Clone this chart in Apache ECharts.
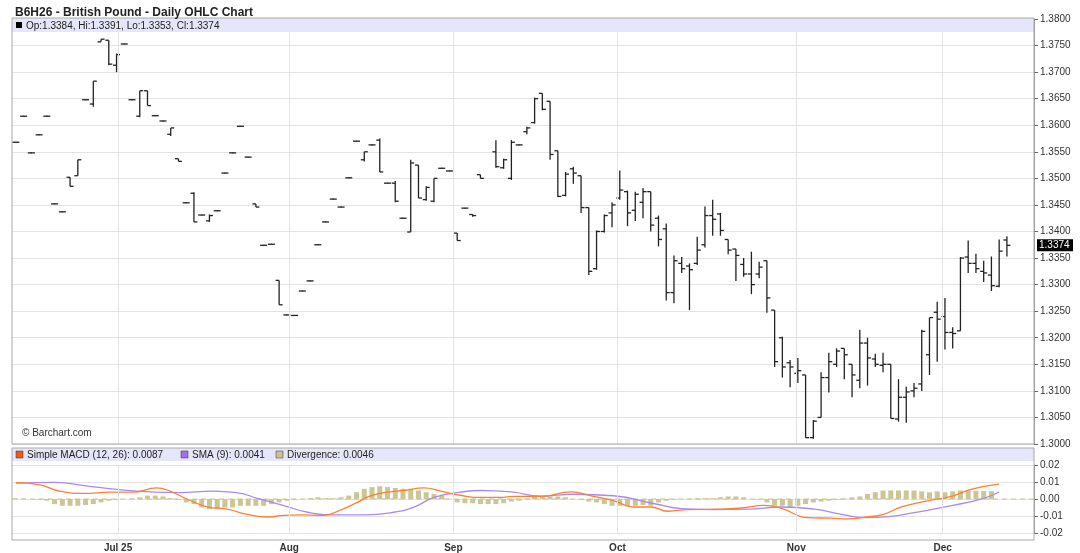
<!DOCTYPE html>
<html>
<head>
<meta charset="utf-8">
<script src="https://cdn.jsdelivr.net/npm/echarts@6/dist/echarts.min.js"></script>
<style>html,body{margin:0;padding:0;background:#fff}#main{width:1080px;height:553px}</style>
</head>
<body>
<div id="main"></div>
<script>
// daily bars, oldest first (null = no trade read)
var opens  = [1.3568,1.3617,1.3548,1.3582,1.3617,1.3452,1.3437,1.3502,1.3505,1.3648,1.3640,1.3757,1.3760,1.3713,1.3753,1.3648,1.3617,1.3665,1.3618,1.3608,1.3583,1.3537,1.3454,1.3472,1.3431,1.3420,1.3439,1.3510,1.3548,1.3598,1.3540,1.3452,1.3374,1.3376,1.3308,1.3243,1.3242,1.3288,1.3307,1.3375,1.3418,1.3461,1.3446,1.3501,1.3570,1.3535,1.3563,1.3572,1.3491,1.3491,1.3425,1.3399,1.3525,1.3460,1.3457,1.3519,1.3514,1.3397,1.3444,1.3432,1.3507,null,1.3550,1.3520,1.3500,1.3563,1.3588,1.3605,1.3660,1.3645,1.3552,1.3468,1.3518,1.3505,1.3445,1.3330,1.3400,1.3435,1.3463,1.3475,1.3440,1.3455,1.3475,1.3425,1.3405,1.3285,1.3340,1.3335,1.3340,1.3375,1.3430,1.3433,1.3385,1.3367,1.3338,1.3320,1.3320,1.3345,1.3252,1.3200,1.3153,1.3133,1.3130,1.3012,1.3050,1.3125,1.3150,1.3180,1.3150,1.3120,1.3190,1.3160,1.3148,1.3150,1.3047,1.3088,1.3100,1.3113,1.3168,1.3248,1.3240,1.3210,1.3213,1.3352,1.3340,1.3325,1.3318,1.3297,1.3384];
var highs  = [1.3568,1.3617,1.3548,1.3582,1.3617,1.3452,1.3437,1.3502,1.3535,1.3648,1.3683,1.3762,1.3760,1.3735,1.3753,1.3648,1.3665,1.3665,1.3618,1.3608,1.3595,1.3537,1.3454,1.3474,1.3431,1.3432,1.3439,1.3510,1.3548,1.3598,1.3540,1.3452,1.3374,1.3376,1.3308,1.3243,1.3242,1.3288,1.3307,1.3375,1.3418,1.3461,1.3446,1.3501,1.3570,1.3550,1.3563,1.3575,1.3491,1.3495,1.3425,1.3535,1.3525,1.3485,1.3500,1.3519,1.3514,1.3397,1.3444,1.3432,1.3507,null,1.3572,1.3537,1.3572,1.3563,1.3597,1.3652,1.3660,1.3645,1.3552,1.3512,1.3522,1.3505,1.3445,1.3402,1.3432,1.3455,1.3515,1.3477,1.3475,1.3482,1.3475,1.3430,1.3415,1.3355,1.3352,1.3340,1.3390,1.3447,1.3460,1.3435,1.3385,1.3367,1.3350,1.3362,1.3343,1.3345,1.3252,1.3202,1.3158,1.3162,1.3130,1.3045,1.3135,1.3172,1.3180,1.3180,1.3150,1.3215,1.3200,1.3170,1.3172,1.3150,1.3122,1.3108,1.3115,1.3215,1.3238,1.3268,1.3275,1.3220,1.3352,1.3383,1.3358,1.3345,1.3353,1.3385,1.3391];
var lows   = [1.3568,1.3617,1.3548,1.3582,1.3617,1.3452,1.3437,1.3485,1.3505,1.3648,1.3635,1.3757,1.3713,1.3700,1.3753,1.3648,1.3615,1.3637,1.3618,1.3608,1.3580,1.3532,1.3454,1.3418,1.3431,1.3418,1.3439,1.3510,1.3548,1.3598,1.3540,1.3446,1.3374,1.3376,1.3262,1.3243,1.3242,1.3288,1.3307,1.3375,1.3418,1.3461,1.3446,1.3501,1.3570,1.3532,1.3563,1.3512,1.3491,1.3455,1.3425,1.3399,1.3463,1.3458,1.3455,1.3519,1.3514,1.3383,1.3444,1.3428,1.3500,null,1.3520,1.3518,1.3497,1.3563,1.3583,1.3603,1.3628,1.3535,1.3465,1.3466,1.3490,1.3435,1.3318,1.3328,1.3398,1.3408,1.3460,1.3410,1.3420,1.3425,1.3400,1.3372,1.3270,1.3265,1.3322,1.3252,1.3337,1.3370,1.3392,1.3392,1.3357,1.3307,1.3315,1.3282,1.3312,1.3247,1.3145,1.3125,1.3107,1.3115,1.3012,1.3010,1.3050,1.3097,1.3145,1.3122,1.3088,1.3105,1.3110,1.3145,1.3135,1.3048,1.3042,1.3040,1.3088,1.3100,1.3130,1.3155,1.3178,1.3180,1.3213,1.3322,1.3322,1.3305,1.3288,1.3295,1.3353];
var closes = [1.3568,1.3617,1.3548,1.3582,1.3617,1.3452,1.3437,1.3485,1.3535,1.3648,1.3683,1.3762,1.3715,1.3733,1.3753,1.3648,1.3665,1.3637,1.3618,1.3608,1.3595,1.3532,1.3454,1.3418,1.3431,1.3430,1.3439,1.3510,1.3548,1.3598,1.3540,1.3446,1.3374,1.3376,1.3262,1.3243,1.3242,1.3288,1.3307,1.3375,1.3418,1.3461,1.3446,1.3501,1.3570,1.3550,1.3563,1.3512,1.3491,1.3457,1.3425,1.3529,1.3463,1.3483,1.3500,1.3519,1.3514,1.3383,1.3444,1.3430,1.3500,null,1.3522,1.3535,1.3568,1.3563,1.3595,1.3650,1.3630,1.3545,1.3466,1.3508,1.3510,1.3445,1.3325,1.3400,1.3430,1.3450,1.3478,1.3435,1.3470,1.3475,1.3412,1.3385,1.3285,1.3345,1.3330,1.3328,1.3365,1.3430,1.3423,1.3402,1.3365,1.3355,1.3320,1.3300,1.3333,1.3275,1.3155,1.3145,1.3145,1.3138,1.3012,1.3043,1.3125,1.3155,1.3175,1.3168,1.3130,1.3190,1.3162,1.3150,1.3150,1.3048,1.3088,1.3098,1.3105,1.3212,1.3238,1.3235,1.3210,1.3208,1.3350,1.3340,1.3330,1.3322,1.3298,1.3363,1.3374];

// MACD panel
var divergence = [0.0003,0.0002,0,-0.0005,-0.001,-0.003,-0.004,-0.004,-0.004,-0.0035,-0.003,-0.002,-0.001,-0.0005,0,0.0002,0.001,0.002,0.002,0.0015,0.0005,-0.0005,-0.002,-0.003,-0.005,-0.006,-0.006,-0.005,-0.005,-0.004,-0.004,-0.004,-0.004,-0.003,-0.002,-0.001,-0.0005,0,0.0005,0.001,0.0005,0.0005,0.001,0.002,0.004,0.006,0.007,0.0075,0.007,0.0065,0.006,0.006,0.005,0.004,0.003,0.002,0.0002,-0.002,-0.0025,-0.0025,-0.003,-0.003,-0.003,-0.0025,-0.0015,-0.001,-0.0005,
  0.0015,0.0015,0.0015,0.0015,0.001,0,-0.0005,-0.0015,-0.002,-0.003,-0.004,-0.004,-0.004,-0.004,-0.0035,-0.004,-0.002,-0.001,-0.0005,0,0.0002,0.0005,0.0005,0.0005,0.001,0.0015,0.0015,0.001,0,-0.0005,-0.002,-0.004,-0.004,-0.005,-0.004,-0.003,-0.002,-0.0015,-0.001,-0.0005,0.0003,0.001,0.0015,0.003,0.004,0.005,0.005,0.005,0.005,0.005,0.0045,0.004,0.0045,0.004,0.0045,0.005,0.005,0.0048,0.0047,0.0046];
var macdIdx = [0,3.1,5.7,8.7,12.2,15.1,18.2,19.9,22.1,24.7,27.3,29.9,32.5,34.6,36.7,39.7,41.9,44.1,45.8,48,50.1,52.7,54.9,57.4,60,62.6,64.3,67.8,71.7,74.3,77.2,79.8,82,84.2,86.8,90.2,93.7,96.6,98.8,102.3,105.3,107.5,110.1,111.8,114.4,117.9,120.8,123.4,127];
var macdVal = [0.0096,0.0083,0.0046,0.0033,0.004,0.004,0.0065,0.0046,0,-0.0046,-0.006,-0.009,-0.0106,-0.0096,-0.0093,-0.0096,-0.0065,-0.002,0.0018,0.004,0.005,0.0065,0.0046,0.0022,0.0009,0.0009,0.0015,0.0015,0.0042,0.0019,-0.001,-0.0047,-0.0047,-0.0072,-0.0062,-0.006,-0.0053,-0.0038,-0.0053,-0.011,-0.0113,-0.0117,-0.0104,-0.0094,-0.0047,-0.0009,0.0015,0.0057,0.0087];
var smaIdx = [0,5,9.5,16.7,21,25.5,28.5,31.5,34.5,37.7,41,45,48.8,51.5,54,57.4,60,62.6,64.3,67.8,72.1,77.2,82.5,86,90.2,94.6,98.8,103.2,107,109.8,112.7,116.2,121,125,127];
var smaVal = [0.0093,0.0098,0.0074,0.0043,0.0037,0.0046,0.0037,0,-0.0037,-0.0078,-0.0093,-0.0093,-0.0078,-0.0046,0.0009,0.004,0.005,0.0046,0.004,0.0017,0.0028,0.0019,-0.0028,-0.0057,-0.0062,-0.006,-0.0047,-0.006,-0.0094,-0.011,-0.0104,-0.0079,-0.0038,0.0004,0.0041];

// month start positions (bar index units) and their labels
var monthPos = [13.2, 35.3, 56.5, 77.7, 100.8, 119.7];
var monthNames = ['Jul 25', 'Aug', 'Sep', 'Oct', 'Nov', 'Dec'];

var n = opens.length;
var xMax = n + 2.5; // empty room right of the last bar
var ohlc = [];
for (var i = 0; i < n; i++) {
  if (opens[i] !== null) ohlc.push([i, opens[i], highs[i], lows[i], closes[i]]);
}
var divData = divergence.map(function (v, i) { return [i, v]; });
var macdLine = macdIdx.map(function (x, i) { return [x, macdVal[i]]; });
var smaLine = smaIdx.map(function (x, i) { return [x, smaVal[i]]; });
var monthLines = monthPos.map(function (x) { return { xAxis: x }; });

var myChart = echarts.init(document.getElementById('main'));
var L = 12, R = 46;
var gridLine = { show: true, lineStyle: { color: '#e3e3e3' } };
var vLines = { silent: true, symbol: 'none', label: { show: false },
  lineStyle: { color: '#e3e3e3', type: 'solid', width: 1 }, data: monthLines };
var option = {
  animation: false,
  textStyle: { fontFamily: 'Liberation Sans, Arial, sans-serif' },
  title: {
    text: 'B6H26 - British Pound - Daily OHLC Chart',
    left: 10, top: 2,
    textStyle: { fontSize: 12, fontWeight: 'bold', color: '#222' }
  },
  grid: [
    { left: L, right: R, top: 19, height: 425 },
    { left: L, right: R, top: 465, height: 71 }
  ],
  xAxis: [
    { type: 'value', gridIndex: 0, min: -0.5, max: xMax, show: false },
    { type: 'value', gridIndex: 1, min: -0.5, max: xMax,
      axisLine: { show: false, onZero: false }, axisTick: { show: false }, splitLine: { show: false },
      axisLabel: {
        customValues: monthPos, margin: 10, fontSize: 10, fontWeight: 'bold', color: '#333',
        formatter: function (v) {
          var k = -1;
          monthPos.forEach(function (p, j) { if (Math.abs(p - v) < 0.01) k = j; });
          return k >= 0 ? monthNames[k] : '';
        }
      } }
  ],
  yAxis: [
    { type: 'value', gridIndex: 0, position: 'right', min: 1.30, max: 1.38, interval: 0.005,
      axisLine: { show: true, onZero: false, lineStyle: { color: '#999' } },
      axisTick: { show: true, length: 4, lineStyle: { color: '#666' } },
      axisLabel: { fontSize: 10, color: '#333', margin: 6, formatter: function (v) { return v.toFixed(4); } },
      splitLine: gridLine },
    { type: 'value', gridIndex: 1, position: 'right', min: -0.02, max: 0.02, interval: 0.01,
      axisLine: { show: true, onZero: false, lineStyle: { color: '#999' } },
      axisTick: { show: true, length: 4, lineStyle: { color: '#666' } },
      axisLabel: { fontSize: 10, color: '#333', margin: 6, formatter: function (v) { return v.toFixed(2); } },
      splitLine: gridLine }
  ],
  series: [
    {
      type: 'custom', xAxisIndex: 0, yAxisIndex: 0, data: ohlc,
      encode: { x: 0, y: [1, 2, 3, 4] },
      renderItem: function (params, api) {
        var x = api.coord([api.value(0), 0])[0];
        var o = api.coord([api.value(0), api.value(1)])[1];
        var h = api.coord([api.value(0), api.value(2)])[1];
        var l = api.coord([api.value(0), api.value(3)])[1];
        var c = api.coord([api.value(0), api.value(4)])[1];
        var st = { stroke: '#222', lineWidth: 1.3 };
        if (Math.abs(l - h) < 1) { h -= 0.5; l += 0.5; }
        return { type: 'group', children: [
          { type: 'line', shape: { x1: x, y1: h, x2: x, y2: l }, style: st },
          { type: 'line', shape: { x1: x - 3.5, y1: o, x2: x, y2: o }, style: st },
          { type: 'line', shape: { x1: x, y1: c, x2: x + 3.5, y2: c }, style: st }
        ] };
      },
      markLine: vLines
    },
    {
      type: 'bar', xAxisIndex: 1, yAxisIndex: 1, data: divData, barWidth: 5,
      itemStyle: { color: '#cbc693' },
      markLine: vLines
    },
    { type: 'line', xAxisIndex: 1, yAxisIndex: 1, data: smaLine, smooth: true, showSymbol: false,
      lineStyle: { color: '#a98af0', width: 1.3 } },
    { type: 'line', xAxisIndex: 1, yAxisIndex: 1, data: macdLine, smooth: true, showSymbol: false,
      lineStyle: { color: '#ff8033', width: 1.3 } }
  ]
};
myChart.setOption(option);

var lastY = myChart.convertToPixel({ yAxisIndex: 0 }, closes[n - 1]);
var zeroY = myChart.convertToPixel({ yAxisIndex: 1 }, 0);
var W = 1080 - L - R;
myChart.setOption({
  graphic: [
    { type: 'rect', shape: { x: L, y: 18, width: W, height: 14 }, style: { fill: '#e6e6fa' }, z: 5 },
    { type: 'rect', shape: { x: L, y: 18, width: W, height: 426 }, style: { fill: 'none', stroke: '#aaa', lineWidth: 1 }, z: 6 },
    { type: 'rect', shape: { x: 16, y: 22, width: 6, height: 6 }, style: { fill: '#000' }, z: 7 },
    { type: 'text', x: 26, y: 21, style: { text: 'Op:1.3384, Hi:1.3391, Lo:1.3353, Cl:1.3374', fontSize: 10, fill: '#222' }, z: 7 },
    { type: 'text', x: 22, y: 428, style: { text: '© Barchart.com', fontSize: 10, fill: '#333' }, z: 7 },
    { type: 'rect', shape: { x: L, y: 448, width: W, height: 13 }, style: { fill: '#e6e6fa' }, z: 5 },
    { type: 'rect', shape: { x: L, y: 448, width: W, height: 92 }, style: { fill: 'none', stroke: '#aaa', lineWidth: 1 }, z: 6 },
    { type: 'line', shape: { x1: L, y1: zeroY, x2: L + W, y2: zeroY }, style: { stroke: '#c9c48e', lineDash: [5, 4], lineWidth: 1 }, z: 1 },
    { type: 'rect', shape: { x: 16, y: 451, width: 7, height: 7 }, style: { fill: '#f05a12', stroke: '#333', lineWidth: 0.5 }, z: 7 },
    { type: 'text', x: 27, y: 450, style: { text: 'Simple MACD (12, 26): 0.0087', fontSize: 10, fill: '#222' }, z: 7 },
    { type: 'rect', shape: { x: 181, y: 451, width: 7, height: 7 }, style: { fill: '#a070f0', stroke: '#333', lineWidth: 0.5 }, z: 7 },
    { type: 'text', x: 192, y: 450, style: { text: 'SMA (9): 0.0041', fontSize: 10, fill: '#222' }, z: 7 },
    { type: 'rect', shape: { x: 276, y: 451, width: 7, height: 7 }, style: { fill: '#c9c48e', stroke: '#333', lineWidth: 0.5 }, z: 7 },
    { type: 'text', x: 287, y: 450, style: { text: 'Divergence: 0.0046', fontSize: 10, fill: '#222' }, z: 7 },
    { type: 'rect', shape: { x: 1037, y: lastY - 6, width: 36, height: 12 }, style: { fill: '#000' }, z: 8 },
    { type: 'text', x: 1039, y: lastY - 5, style: { text: closes[n - 1].toFixed(4), fontSize: 10, fill: '#fff' }, z: 9 }
  ]
});
window.addEventListener('resize', function () { myChart.resize(); });
</script>
</body>
</html>
